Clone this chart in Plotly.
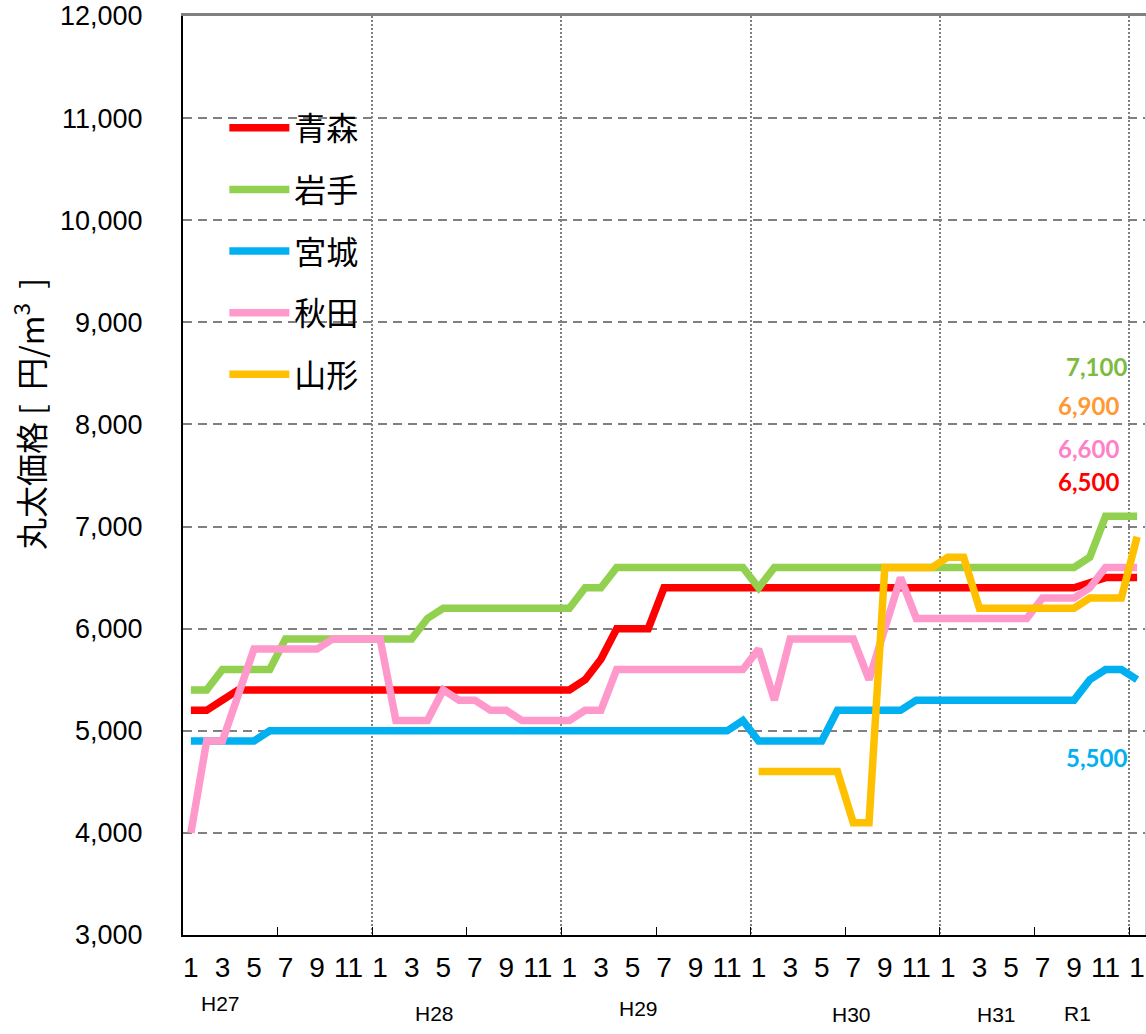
import plotly.graph_objects as go

# ---------------- data ----------------
month_index = list(range(61))
month_labels = [str(m) for _ in range(5) for m in range(1, 13)] + ["1"]

series_names = ["青森", "岩手", "宮城", "秋田", "山形"]

aomori = ([5200, 5200, 5300, 5400] + [5400] * 21 +
          [5500, 5700, 6000, 6000, 6000, 6400] + [6400] * 26 +
          [6450, 6500, 6500, 6500])
iwate = ([5400, 5400, 5600, 5600, 5600, 5600, 5900] + [5900] * 8 +
         [6100, 6200] + [6200] * 8 + [6400, 6400, 6600] + [6600] * 8 +
         [6400] + [6600] * 20 + [6700, 7100, 7100, 7100])
miyagi = ([4900] * 5 + [5000] * 30 + [5100] + [4900] * 5 + [5200] * 5 +
          [5300] * 11 + [5500, 5600, 5600, 5500])
akita = ([4000, 4900, 4900, 5350, 5800, 5800, 5800, 5800, 5800, 5900,
          5900, 5900, 5900, 5100, 5100, 5100, 5400, 5300, 5300, 5200,
          5200, 5100, 5100, 5100, 5100, 5200, 5200, 5600] + [5600] * 8 +
         [5800, 5300, 5900, 5900, 5900, 5900, 5900, 5500, 6000, 6500] +
         [6100] * 8 + [6300, 6300, 6300, 6400, 6600, 6600, 6600])
yamagata = ([None] * 36 + [4600] * 6 + [4100, 4100] + [6600] * 4 +
            [6700, 6700] + [6200] * 7 + [6300, 6300, 6300, 6900])

series_values = [aomori, iwate, miyagi, akita, yamagata]
line_colors = ["#FF0000", "#92D050", "#00B0F0", "#FF99CC", "#FFC000"]
label_colors = ["#FF0000", "#7CBB3F", "#00B0F0", "#FF80C8", "#FF9933"]

era_names = ["H27", "H28", "H29", "H30", "H31", "R1"]

# ---------------- figure ----------------
fig = go.Figure()

# empty helper traces so that the overlay axes (grid / frame / ticks) get drawn
for xa, ya in (("x2", "y"), ("x3", "y"), ("x", "y2")):
    fig.add_trace(go.Scatter(x=[None], y=[None], xaxis=xa, yaxis=ya,
                             showlegend=False, hoverinfo="skip", mode="lines"))

for name, vals, col in zip(series_names, series_values, line_colors):
    fig.add_trace(go.Scatter(
        x=month_index, y=vals, name=name, mode="lines",
        line=dict(color=col, width=7.5), legendgroup=name,
        connectgaps=False, hoverinfo="skip"))

year_bounds = [i - 0.5 for i in month_index if month_labels[i] == "1" and i > 0]
half_bounds = [i - 0.5 for i in month_index if month_labels[i] in ("1", "7") and i > 0]

xr = [-0.5, 60.5]
yr = [3000, 12000]

fig.update_layout(
    width=1146, height=1034,
    margin=dict(l=183, r=1, t=16, b=99),
    paper_bgcolor="white", plot_bgcolor="white",
    showlegend=True,
    legend=dict(x=0.043, y=0.908, xanchor="left", yanchor="top",
                font=dict(family="Noto Sans CJK JP", size=32, color="black"),
                itemwidth=60, tracegroupgap=17, bgcolor="rgba(0,0,0,0)",
                traceorder="grouped"),
    xaxis=dict(range=xr, tickmode="array", automargin=False,
               tickvals=month_index[::2], ticktext=month_labels[::2],
               ticks="", showgrid=False, zeroline=False,
               showline=True, linecolor="black", linewidth=2,
               tickfont=dict(family="Liberation Sans, Arial", size=28, color="black"),
               ticklabelstandoff=6),
    xaxis2=dict(range=xr, overlaying="x", side="top", anchor="y", automargin=False,
                tickmode="array", tickvals=year_bounds, showticklabels=False,
                ticks="", showgrid=True, gridcolor="#808080", gridwidth=2,
                griddash="2px,2px", zeroline=False,
                showline=True, linecolor="#808080", linewidth=3),
    xaxis3=dict(range=xr, overlaying="x", side="bottom", anchor="y", automargin=False,
                tickmode="array", tickvals=half_bounds, showticklabels=False,
                ticks="inside", ticklen=8, tickwidth=1, tickcolor="black",
                showgrid=False, zeroline=False, showline=False),
    yaxis=dict(range=yr, dtick=1000, tickformat=",", ticks="", automargin=False,
               showgrid=True, gridcolor="#808080", gridwidth=2,
               griddash="9px,6px", zeroline=False,
               showline=True, linecolor="black", linewidth=2,
               tickfont=dict(family="Liberation Sans, Arial", size=27, color="black"),
               ticklabelstandoff=33),
    yaxis2=dict(range=yr, overlaying="y", side="right", anchor="x", automargin=False,
                showticklabels=False, ticks="", showgrid=False, zeroline=False,
                showline=True, linecolor="#d0d0d0", linewidth=1),
)

# y-axis title
fig.add_annotation(
    text="丸太価格\u00a0[\u00a0\u00a0円/m<sup>3</sup>\u00a0\u00a0]", textangle=-90,
    xref="paper", yref="paper", x=-0.161, y=0.567,
    xanchor="center", yanchor="middle", showarrow=False,
    font=dict(family="Noto Sans CJK JP", size=32, color="black"))

# era labels under the axis
era_x = [1.9, 15.47, 28.4, 41.9, 51.1, 56.25]
era_y = [-0.074, -0.085, -0.0805, -0.086, -0.087, -0.085]
for t, ex, ey in zip(era_names, era_x, era_y):
    fig.add_annotation(text=t, xref="x", yref="paper", x=ex, y=ey,
                       xanchor="center", yanchor="middle", showarrow=False,
                       font=dict(family="Liberation Sans, Arial", size=21, color="black"))

# end-value labels
end_pos = {"岩手": (57.4, 8572), "山形": (56.9, 8181), "秋田": (56.9, 7760),
           "青森": (56.9, 7446), "宮城": (57.4, 4743)}
for name, vals, col in zip(series_names, series_values, label_colors):
    lx, ly = end_pos[name]
    fig.add_annotation(text=f"{vals[-1]:,}", xref="x", yref="y", x=lx, y=ly,
                       xanchor="center", yanchor="middle", showarrow=False,
                       font=dict(family="Lato, Open Sans", size=24, color=col,
                                 weight="bold"))

fig.write_html("out.html", config={"displayModeBar": False},
               post_script="document.body.style.margin='0px';")
